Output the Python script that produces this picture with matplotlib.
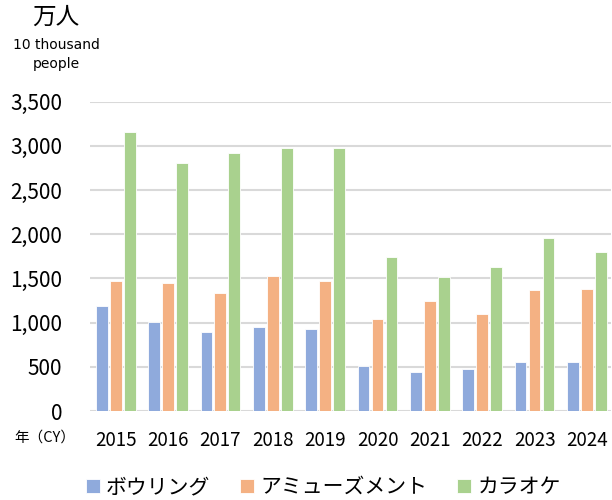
import matplotlib
matplotlib.use("Agg")
import matplotlib.pyplot as plt
import numpy as np

plt.rcParams['font.family'] = ['Noto Sans CJK JP', 'DejaVu Sans']

years = ['2015', '2016', '2017', '2018', '2019', '2020', '2021', '2022', '2023', '2024']
bowling = [1187, 1006, 889, 946, 927, 509, 445, 475, 554, 554]
amusement = [1473, 1443, 1334, 1526, 1466, 1036, 1243, 1096, 1364, 1383]
karaoke = [3154, 2803, 2916, 2973, 2973, 1745, 1515, 1635, 1963, 1794]
series_names = ['ボウリング', 'アミューズメント', 'カラオケ']
colors = ['#8FAADC', '#F4B183', '#A9D18E']
yticks = [0, 500, 1000, 1500, 2000, 2500, 3000, 3500]

W, H = 612, 500
fig = plt.figure(figsize=(W / 100, H / 100), dpi=100)
ax = fig.add_axes([90 / W, 1 - 411 / H, 521 / W, (411 - 101.7) / H])

x = np.arange(len(years))
w = 0.225
step = 0.267
for i, (vals, c, n) in enumerate(zip([bowling, amusement, karaoke], colors, series_names)):
    ax.bar(x + (i - 1) * step, vals, width=w, color=c, edgecolor='white',
           linewidth=0.6, label=n, zorder=3)

ax.set_ylim(0, 3500)
ax.set_xlim(-0.49, len(years) - 1 + 0.46)
ax.set_yticks(yticks)
ax.set_yticklabels([f'{v:,}' for v in yticks], fontsize=15)
ax.set_xticks(x)
ax.set_xticklabels(years, fontsize=13.5)
ax.tick_params(axis='both', length=0)
ax.tick_params(axis='x', pad=14)
ax.tick_params(axis='y', pad=20)
ax.grid(axis='y', color='#d9d9d9', linewidth=1.5, zorder=0)
for s in ax.spines.values():
    s.set_visible(False)

fig.text(56 / W, 1 - 17.5 / H, '万人', fontsize=17, ha='center', va='center')
fig.text(56 / W, 1 - 45 / H, '10 thousand', fontsize=10, ha='center', va='center',
         family='DejaVu Sans')
fig.text(56 / W, 1 - 64 / H, 'people', fontsize=10, ha='center', va='center',
         family='DejaVu Sans')
fig.text(45 / W, 1 - 438 / H, '年（CY）', fontsize=10.5, ha='center', va='center')

leg = fig.legend(loc='center', bbox_to_anchor=(323.5 / W, 1 - 487 / H), ncol=3, frameon=False,
                 fontsize=15, handlelength=0.67, handleheight=0.67, handletextpad=0.29,
                 columnspacing=1.44, borderpad=0, borderaxespad=0)

fig.savefig('out.png', dpi=100)
